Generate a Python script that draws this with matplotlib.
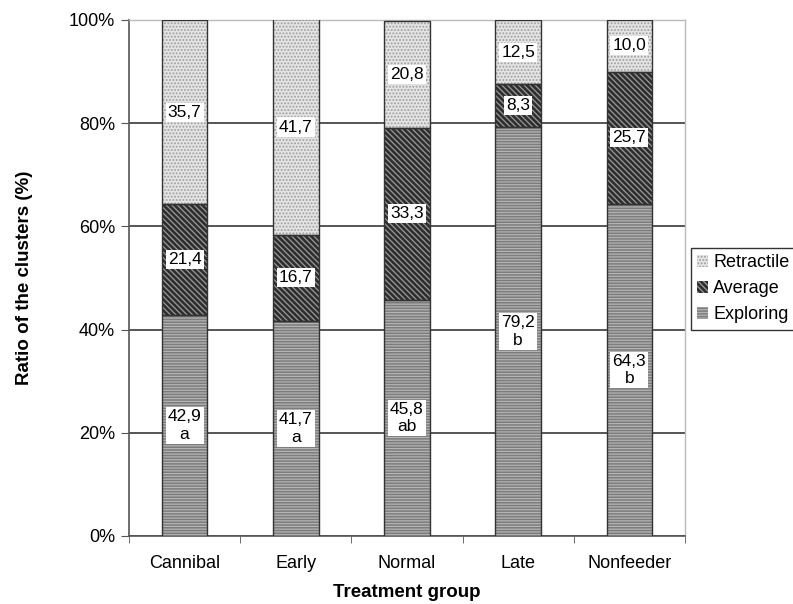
import numpy as np
import matplotlib
matplotlib.use('Agg')
import matplotlib.pyplot as plt
from matplotlib.patches import Patch

plt.rcParams['font.family'] = ['Liberation Sans', 'DejaVu Sans']
plt.rcParams['hatch.linewidth'] = 0.9

# data
groups = ['Cannibal', 'Early', 'Normal', 'Late', 'Nonfeeder']
exploring = [42.9, 41.7, 45.8, 79.2, 64.3]
average = [21.4, 16.7, 33.3, 8.3, 25.7]
retractile = [35.7, 41.7, 20.8, 12.5, 10.0]
letters = ['a', 'a', 'ab', 'b', 'b']

fig = plt.figure(figsize=(7.93, 6.04), dpi=100)
ax = fig.add_axes([0.1627, 0.1126, 0.7010, 0.8543])

x = np.arange(len(groups))
w = 0.41

# (face colour, hatch, hatch colour)
styles = {
    'Exploring': ('#7c7c7c', '------', '#b4b4b4'),
    'Average': ('#2e2e2e', '\\\\\\\\\\\\', '#9a9a9a'),
    'Retractile': ('#e4e4e4', '.....', '#9e9e9e'),
}

series = [('Exploring', exploring), ('Average', average), ('Retractile', retractile)]
bottom = np.zeros(len(groups))
for name, vals in series:
    fc, hatch, hc = styles[name]
    vals = np.array(vals)
    # hatch layer (hatch colour follows edgecolor)
    ax.bar(x, vals, w, bottom=bottom, color=fc, edgecolor=hc, hatch=hatch,
           linewidth=0, zorder=3)
    # outline layer
    ax.bar(x, vals, w, bottom=bottom, facecolor='none', edgecolor='#333333',
           linewidth=1.0, zorder=4)
    for i, v in enumerate(vals):
        txt = f'{v:.1f}'.replace('.', ',')
        if name == 'Exploring':
            txt += '\n' + letters[i]
        ax.text(x[i], bottom[i] + v / 2, txt, ha='center', va='center',
                fontsize=12.5, linespacing=1.2, zorder=5,
                bbox=dict(facecolor='white', edgecolor='none', pad=1.5))
    bottom += vals

ax.set_xlim(-0.5, len(groups) - 0.5)
ax.set_ylim(0, 100)
ax.set_yticks(np.arange(0, 101, 20))
ax.set_yticklabels([f'{t}%' for t in range(0, 101, 20)], fontsize=13)
ax.yaxis.grid(True, color='#555555', linewidth=1.4, zorder=0)
ax.set_axisbelow(True)

ax.set_xticks(x)
ax.set_xticklabels(groups, fontsize=13)
ax.set_xticks(np.arange(-0.5, len(groups), 1), minor=True)
ax.tick_params(axis='x', which='major', length=0, pad=14)
ax.tick_params(axis='x', which='minor', length=5, color='#555555')
ax.tick_params(axis='y', length=6, color='#555555', pad=4)

for s in ['left', 'bottom']:
    ax.spines[s].set_color('#555555')
    ax.spines[s].set_linewidth(1.2)
for s in ['top', 'right']:
    ax.spines[s].set_color('#bbbbbb')
    ax.spines[s].set_linewidth(1.0)

ax.set_xlabel('Treatment group', fontsize=13.5, fontweight='bold', labelpad=8)
ax.set_ylabel('Ratio of the clusters (%)', fontsize=13.5, fontweight='bold', labelpad=26)

handles = []
for name, _ in reversed(series):
    fc, hatch, hc = styles[name]
    handles.append(Patch(facecolor=fc, edgecolor=hc, hatch=hatch, linewidth=0))
leg = fig.legend(handles, [n for n, _ in reversed(series)], loc='center left',
                 bbox_to_anchor=(0.871, 0.522), fontsize=13, frameon=True,
                 fancybox=False, edgecolor='black', handlelength=0.6,
                 handleheight=0.6, handletextpad=0.3, borderpad=0.35,
                 labelspacing=0.5, borderaxespad=0)
leg.get_frame().set_linewidth(1.0)

fig.savefig('out.png', dpi=100)
